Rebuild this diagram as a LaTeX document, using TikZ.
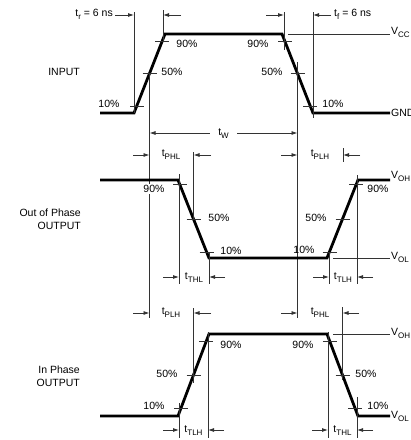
\documentclass[tikz,border=0pt]{standalone}
\usepackage{fontspec}
\setmainfont{Liberation Sans}
\usetikzlibrary{arrows.meta}
\newcommand\sbx[1]{\raisebox{-0.55ex}{\fontsize{8}{9}\selectfont #1}}
\begin{document}
\begin{tikzpicture}[x=1pt,y=-1pt,
  wave/.style={line width=2.8pt, line join=miter},
  thinl/.style={line width=0.8pt, black!80},
  dimarr/.style={line width=0.8pt, black!80, -{Latex[length=6pt,width=4pt]}},
  lbl/.style={font=\fontsize{10.5}{12.5}\selectfont, inner sep=0pt},
  tickmark/.style={line width=0.8pt, black!80}]
\useasboundingbox (0,0) rectangle (411,440);
\clip (0,0) rectangle (411,440);
\fill[white] (0,0) rectangle (411,440);

% ---------- INPUT ----------
\coordinate (I0) at (100,113); \coordinate (I1) at (134,113);
\coordinate (I2) at (165,34);  \coordinate (I3) at (282,34);
\coordinate (I4) at (313,113); \coordinate (I5) at (390,113);
\draw[wave] (I0) -- (I1) -- (I2) -- (I3) -- (I4) -- (I5);
\foreach \p in {(137,106),(149.5,73.5),(162,41),(285,41),(297.5,73.5),(310,106)}
  \draw[tickmark] \p ++(-7,0) -- ++(14,0);
\coordinate (trL0) at (134,12);   \coordinate (trL1) at (134,113);
\coordinate (trR0) at (163,10);   \coordinate (trR1) at (163,42);
\coordinate (mR0) at (149.5,73.5); \coordinate (mR1) at (149.5,318);
\coordinate (mF0) at (297.5,62);  \coordinate (mF1) at (297.5,318);
\coordinate (tfL0) at (284,12);   \coordinate (tfL1) at (284,50);
\coordinate (tfR0) at (313,12);   \coordinate (tfR1) at (313,118);
\draw[thinl] (trL0) -- (trL1);
\draw[thinl] (trR0) -- (trR1);
\draw[thinl] (mR0) -- (mR1);
\draw[thinl] (mF0) -- (mF1);
\draw[thinl] (tfL0) -- (tfL1);
\draw[thinl] (tfR0) -- (tfR1);
\coordinate (vcc0) at (288,34); \coordinate (vcc1) at (390,34);
\draw[thinl] (vcc0) -- (vcc1);
\coordinate (a1) at (115,15); \coordinate (a1e) at (134,15);
\coordinate (a2) at (181,15); \coordinate (a2e) at (163,15);
\coordinate (a3) at (266,15); \coordinate (a3e) at (284,15);
\coordinate (a4) at (331,15); \coordinate (a4e) at (313,15);
\draw[dimarr] (a1) -- (a1e);
\draw[dimarr] (a2) -- (a2e);
\draw[dimarr] (a3) -- (a3e);
\draw[dimarr] (a4) -- (a4e);
\node[lbl, anchor=east] (tr) at (113,14) {t\sbx{r} = 6 ns};
\node[lbl, anchor=west] (tf) at (334,14) {t\sbx{f} = 6 ns};
\node[lbl] (i10) at (109,104) {10\%};
\node[lbl] (i50) at (172,72) {50\%};
\node[lbl] (i90) at (187,44) {90\%};
\node[lbl] (i90b) at (258,44) {90\%};
\node[lbl] (i50b) at (272,72) {50\%};
\node[lbl] (i10b) at (333,104) {10\%};
\node[lbl, anchor=east] (inp) at (80,72) {INPUT};
\node[lbl, anchor=west] (vcc) at (391,32) {V\sbx{CC}};
\node[lbl, anchor=west] (gnd) at (391,113) {GND};
\coordinate (w0) at (149.5,133); \coordinate (w1) at (297.5,133);
\draw[line width=0.8pt, black!80, {Latex[length=6pt,width=4pt]}-{Latex[length=6pt,width=4pt]}] (w0) -- (w1);
\node[lbl, fill=white, inner xsep=8pt, inner ysep=1pt] (tw) at (223.5,134) {t\sbx{W}};

% ---------- OUT OF PHASE ----------
\coordinate (O0) at (100,180); \coordinate (O1) at (178,180);
\coordinate (O2) at (209,258); \coordinate (O3) at (327,258);
\coordinate (O4) at (358,180); \coordinate (O5) at (390,180);
\draw[wave] (O0) -- (O1) -- (O2) -- (O3) -- (O4) -- (O5);
\foreach \p in {(180,184),(193.5,219),(206.5,252),(329.5,252),(342.5,219),(356,184)}
  \draw[tickmark] \p ++(-7,0) -- ++(14,0);
\coordinate (ov1a) at (179,174);   \coordinate (ov1b) at (179,284);
\coordinate (ov2a) at (193.5,152); \coordinate (ov2b) at (193.5,220);
\coordinate (ov3a) at (209,252);   \coordinate (ov3b) at (209,284);
\coordinate (ov4a) at (329,252);   \coordinate (ov4b) at (329,284);
\coordinate (ov5a) at (357,175);   \coordinate (ov5b) at (357,284);
\coordinate (ov6a) at (343,148);   \coordinate (ov6b) at (343,162);
\draw[thinl] (ov1a) -- (ov1b);
\draw[thinl] (ov2a) -- (ov2b);
\draw[thinl] (ov3a) -- (ov3b);
\draw[thinl] (ov4a) -- (ov4b);
\draw[thinl] (ov5a) -- (ov5b);
\draw[thinl] (ov6a) -- (ov6b);
\coordinate (vol0) at (333,258); \coordinate (vol1) at (390,258);
\draw[thinl] (vol0) -- (vol1);
\coordinate (b1) at (133,155); \coordinate (b1e) at (149.5,155);
\coordinate (b2) at (211,155); \coordinate (b2e) at (193.5,155);
\coordinate (b3) at (281,155); \coordinate (b3e) at (297.5,155);
\coordinate (b4) at (360,155); \coordinate (b4e) at (343,155);
\coordinate (c1) at (163,277); \coordinate (c1e) at (179,277);
\coordinate (c2) at (225,277); \coordinate (c2e) at (209,277);
\coordinate (c3) at (313,277); \coordinate (c3e) at (329,277);
\coordinate (c4) at (373,277); \coordinate (c4e) at (357,277);
\foreach \s/\e in {b1/b1e,b2/b2e,b3/b3e,b4/b4e,c1/c1e,c2/c2e,c3/c3e,c4/c4e}
  \draw[dimarr] (\s) -- (\e);
\node[lbl] (o_tphl) at (171,155) {t\sbx{PHL}};
\node[lbl] (o_tplh) at (320,155) {t\sbx{PLH}};
\node[lbl] (o_tthl) at (194,278) {t\sbx{THL}};
\node[lbl] (o_ttlh) at (343,278) {t\sbx{TLH}};
\node[lbl, fill=white, inner sep=1pt] (o90) at (154,189) {90\%};
\node[lbl] (o50) at (219,218) {50\%};
\node[lbl] (o10) at (231,251) {10\%};
\node[lbl] (o10b) at (304,250) {10\%};
\node[lbl] (o50b) at (316,218) {50\%};
\node[lbl] (o90b) at (378,189) {90\%};
\node[lbl, anchor=east, align=right] (oop) at (81,219) {Out of Phase\\OUTPUT};
\node[lbl, anchor=west] (voh1) at (391,176) {V\sbx{OH}};
\node[lbl, anchor=west] (vol1l) at (391,257) {V\sbx{OL}};

% ---------- IN PHASE ----------
\coordinate (P0) at (100,416); \coordinate (P1) at (178,416);
\coordinate (P2) at (209,334); \coordinate (P3) at (327,334);
\coordinate (P4) at (358,416); \coordinate (P5) at (390,416);
\draw[wave] (P0) -- (P1) -- (P2) -- (P3) -- (P4) -- (P5);
\foreach \p in {(181,408.6),(193.5,375),(206.2,341.4),(329.8,341.4),(342.5,375),(355.2,408.6)}
  \draw[tickmark] \p ++(-7,0) -- ++(14,0);
\coordinate (pv1a) at (179,403);   \coordinate (pv1b) at (179,438);
\coordinate (pv2a) at (193.5,308); \coordinate (pv2b) at (193.5,383);
\coordinate (pv3a) at (208,332);   \coordinate (pv3b) at (208,438);
\coordinate (pv4a) at (328,332);   \coordinate (pv4b) at (328,438);
\coordinate (pv5a) at (342.5,307); \coordinate (pv5b) at (342.5,380);
\coordinate (pv6a) at (357,397);   \coordinate (pv6b) at (357,438);
\draw[thinl] (pv1a) -- (pv1b);
\draw[thinl] (pv2a) -- (pv2b);
\draw[thinl] (pv3a) -- (pv3b);
\draw[thinl] (pv4a) -- (pv4b);
\draw[thinl] (pv5a) -- (pv5b);
\draw[thinl] (pv6a) -- (pv6b);
\coordinate (voh0) at (333,334); \coordinate (voh1c) at (390,334);
\draw[thinl] (voh0) -- (voh1c);
\coordinate (d1) at (133,313); \coordinate (d1e) at (149.5,313);
\coordinate (d2) at (211,313); \coordinate (d2e) at (193.5,313);
\coordinate (d3) at (281,313); \coordinate (d3e) at (297.5,313);
\coordinate (d4) at (359,313); \coordinate (d4e) at (342.5,313);
\coordinate (e1) at (163,430); \coordinate (e1e) at (179,430);
\coordinate (e2) at (224,430); \coordinate (e2e) at (208,430);
\coordinate (e3) at (312,430); \coordinate (e3e) at (328,430);
\coordinate (e4) at (373,430); \coordinate (e4e) at (357,430);
\foreach \s/\e in {d1/d1e,d2/d2e,d3/d3e,d4/d4e,e1/e1e,e2/e2e,e3/e3e,e4/e4e}
  \draw[dimarr] (\s) -- (\e);
\node[lbl] (p_tplh) at (171,313) {t\sbx{PLH}};
\node[lbl] (p_tphl) at (320,313) {t\sbx{PHL}};
\node[lbl] (p_ttlh) at (193.5,431) {t\sbx{TLH}};
\node[lbl] (p_tthl) at (342.5,431) {t\sbx{THL}};
\node[lbl] (p10) at (154,406) {10\%};
\node[lbl] (p50) at (167,374) {50\%};
\node[lbl] (p90) at (231,345) {90\%};
\node[lbl] (p90b) at (303,345) {90\%};
\node[lbl] (p50b) at (366,374) {50\%};
\node[lbl] (p10b) at (378,406) {10\%};
\node[lbl, anchor=east, align=right] (inph) at (80,376) {In Phase\\OUTPUT};
\node[lbl, anchor=west] (voh2) at (391,333) {V\sbx{OH}};
\node[lbl, anchor=west] (vol2) at (391,416) {V\sbx{OL}};
\end{tikzpicture}
\end{document}
